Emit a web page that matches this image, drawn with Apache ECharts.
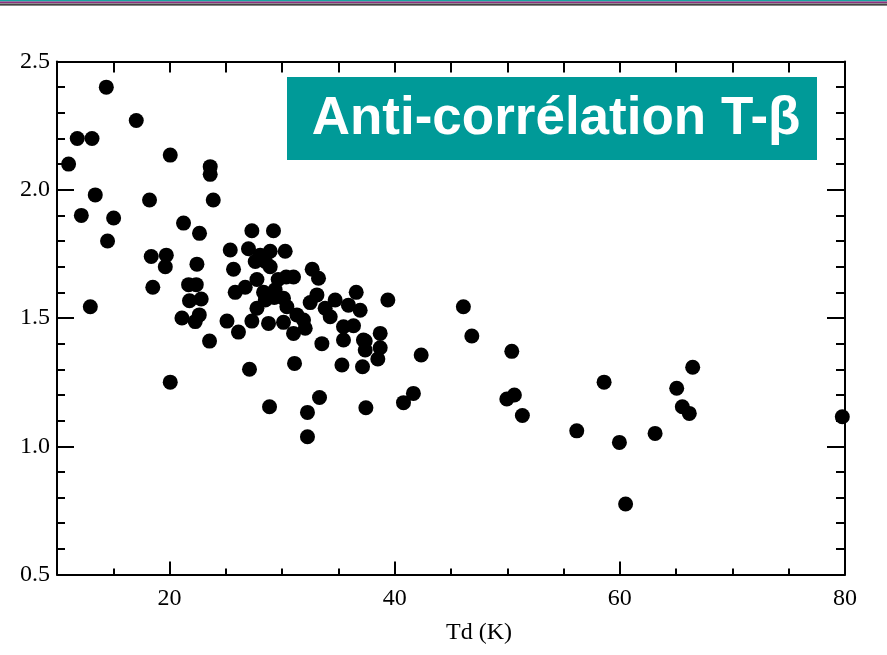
<!DOCTYPE html>
<html><head><meta charset="utf-8">
<script src="https://cdn.jsdelivr.net/npm/echarts@6/dist/echarts.min.js"></script>
<style>html,body{margin:0;padding:0;background:#fff}#c{width:887px;height:655px}</style>
</head><body><div id="c"></div>
<script>
// Dust temperature Td (K)
const tdValues = [
  11.03, 11.80, 13.11, 14.38, 17.04, 13.40, 12.16, 15.03, 14.49, 12.96,
  20.06, 18.22, 23.61, 23.61, 23.88, 21.24, 22.66, 27.31, 29.23, 18.37,
  19.71, 19.62, 22.43, 18.51, 21.69, 22.37, 21.77, 22.81, 21.10, 22.28,
  22.64, 25.10, 20.06, 28.88, 23.55, 26.12, 27.10,
  25.39, 27.01, 28.05, 28.94, 30.27, 25.68, 28.50, 28.94, 27.61, 27.76,
  29.65, 30.36, 31.01, 25.83, 26.72, 28.35, 28.50, 29.30, 30.12, 29.38,
  32.67, 33.23, 32.49, 27.76, 30.42, 27.31, 28.79, 30.12, 31.31, 31.90,
  32.05, 31.01, 33.09, 33.82, 34.71, 35.89, 36.58, 36.93, 34.27, 35.45,
  36.34, 35.45, 33.53, 37.22, 39.39, 38.71, 37.38, 37.38, 38.71, 38.50,
  35.31, 37.14, 42.35, 31.10, 33.32, 32.25, 37.44, 32.25, 41.66, 40.78,
  46.10, 46.85, 50.40, 50.63, 49.96, 51.34, 58.60, 56.17, 59.96, 60.51,
  66.47, 65.05, 65.55, 66.17, 63.13, 79.76
];
// Emissivity index beta
const betaValues = [
  2.10, 2.20, 2.20, 2.40, 2.27, 1.98, 1.90, 1.89, 1.80, 1.544,
  2.135, 1.96, 2.09, 2.06, 1.96, 1.87, 1.83, 1.84, 1.84, 1.74,
  1.745, 1.70, 1.71, 1.62, 1.63, 1.63, 1.567, 1.574, 1.50, 1.486,
  1.512, 1.488, 1.25, 1.154, 1.41, 1.445, 1.30,
  1.765, 1.77, 1.745, 1.76, 1.76, 1.69, 1.72, 1.70, 1.72, 1.65,
  1.65, 1.66, 1.66, 1.60, 1.62, 1.60, 1.57, 1.58, 1.577, 1.61,
  1.69, 1.655, 1.56, 1.538, 1.544, 1.488, 1.479, 1.483, 1.512, 1.492,
  1.46, 1.44, 1.59, 1.538, 1.57, 1.55, 1.60, 1.53, 1.505, 1.466,
  1.47, 1.414, 1.40, 1.414, 1.57, 1.44, 1.41, 1.375, 1.384, 1.34,
  1.317, 1.31, 1.356, 1.323, 1.19, 1.132, 1.15, 1.037, 1.206, 1.17,
  1.544, 1.43, 1.37, 1.20, 1.184, 1.12, 1.25, 1.06, 1.015, 0.775,
  1.308, 1.226, 1.154, 1.128, 1.05, 1.115
];
const xLabelTicks = [20, 40, 60, 80];
const xMajorTicks = [20, 40, 60];
const xMinorTicks = [15, 25, 30, 35, 45, 50, 55, 65, 70, 75];
const yTickLabels = ['0.5', '1.0', '1.5', '2.0', '2.5'];
const titleText = 'Anti-corrélation T-\u03B2';
const xAxisTitle = 'Td (K)';

const points = tdValues.map((t, i) => [t, betaValues[i]]);
const serif = 'Liberation Serif';
const black = '#000';

const chart = echarts.init(document.getElementById('c'), null, {renderer: 'canvas'});
chart.setOption({
  animation: false,
  backgroundColor: '#fff',
  grid: {left: 57, right: 42, top: 61.5, bottom: 80.5, containLabel: false},
  xAxis: [
    {
      type: 'value', position: 'bottom', min: 10, max: 80, interval: 10,
      axisLine: {show: true, onZero: false, lineStyle: {color: black, width: 2}},
      axisTick: {show: true, inside: true, length: 13, customValues: xMajorTicks, lineStyle: {color: black, width: 2}},
      axisLabel: {show: true, customValues: xLabelTicks, fontFamily: serif, fontSize: 24, color: black, margin: 12},
      splitLine: {show: false}
    },
    {
      type: 'value', position: 'bottom', min: 10, max: 80, interval: 5,
      axisLine: {show: false, onZero: false},
      axisTick: {show: true, inside: true, length: 6, customValues: xMinorTicks, lineStyle: {color: black, width: 2}},
      axisLabel: {show: false},
      splitLine: {show: false}
    },
    {
      type: 'value', position: 'top', min: 10, max: 80, interval: 5,
      axisLine: {show: true, onZero: false, lineStyle: {color: black, width: 2}},
      axisTick: {show: true, inside: true, length: 11, lineStyle: {color: black, width: 2}},
      axisLabel: {show: false},
      splitLine: {show: false}
    }
  ],
  yAxis: [
    {
      type: 'value', position: 'left', min: 0.5, max: 2.5, interval: 0.5,
      axisLine: {show: true, onZero: false, lineStyle: {color: black, width: 2}},
      axisTick: {show: true, inside: true, length: 17, lineStyle: {color: black, width: 2}},
      minorTick: {show: true, splitNumber: 5, length: 8, lineStyle: {color: black, width: 2}},
      axisLabel: {
        show: true, fontFamily: serif, fontSize: 24, color: black, margin: 7,
        formatter: v => yTickLabels[Math.round((v - 0.5) / 0.5)]
      },
      splitLine: {show: false}, minorSplitLine: {show: false}
    },
    {
      type: 'value', position: 'right', min: 0.5, max: 2.5, interval: 0.5,
      axisLine: {show: true, onZero: false, lineStyle: {color: black, width: 2}},
      axisTick: {show: true, inside: true, length: 18, lineStyle: {color: black, width: 2}},
      minorTick: {show: true, splitNumber: 5, length: 9, lineStyle: {color: black, width: 2}},
      axisLabel: {show: false},
      splitLine: {show: false}, minorSplitLine: {show: false}
    }
  ],
  series: [{
    type: 'scatter', xAxisIndex: 0, yAxisIndex: 0,
    data: points, symbol: 'circle', symbolSize: 15,
    itemStyle: {color: black, opacity: 1}
  }],
  graphic: [
    {type: 'rect', left: 0, top: 0, shape: {width: 887, height: 1.5}, style: {fill: '#17a3a0'}},
    {type: 'rect', left: 0, top: 1.5, shape: {width: 887, height: 1.8}, style: {fill: '#8e2f7f'}},
    {type: 'rect', left: 0, top: 3.3, shape: {width: 887, height: 1}, style: {fill: '#777'}},
    {type: 'rect', left: 0, top: 4.3, shape: {width: 887, height: 1.2}, style: {fill: '#111'}},
    {type: 'rect', left: 287, top: 77, shape: {width: 530, height: 83}, style: {fill: '#009a98'}},
    {type: 'text', x: 556, y: 119, style: {text: titleText, fill: '#fff', font: 'bold 53px "Liberation Sans", Arial, sans-serif', textAlign: 'center', textVerticalAlign: 'middle'}},
    {type: 'text', x: 479, y: 633, style: {text: xAxisTitle, fill: black, font: '24px "Liberation Serif", serif', textAlign: 'center', textVerticalAlign: 'middle'}}
  ]
});
</script>
</body></html>
